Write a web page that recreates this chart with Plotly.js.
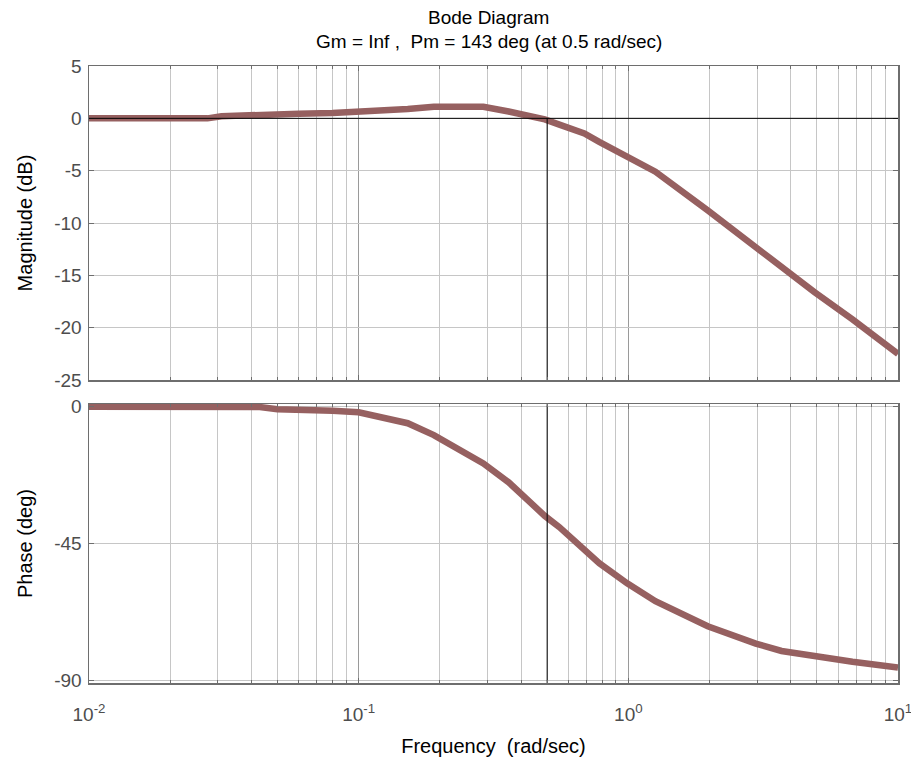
<!DOCTYPE html>
<html>
<head>
<meta charset="utf-8">
<script src="https://cdn.plot.ly/plotly-3.0.1.min.js"></script>
<style>html,body{margin:0;padding:0;background:#fff;}#chart{width:911px;height:761px;}</style>
</head>
<body>
<div id="chart"></div>
<script>
// Frequency grid (rad/sec)
var freq = [0.01, 0.0275, 0.031, 0.043, 0.05, 0.06, 0.08, 0.1, 0.12, 0.152, 0.19, 0.29, 0.36, 0.394, 0.49, 0.555, 0.687, 0.78, 0.99, 1.26, 1.97, 2.43, 2.97, 3.7, 4.9, 6.78, 10];
// Magnitude (dB)
var magnitude = [0, 0, 0.2, 0.25, 0.27, 0.45, 0.5, 0.6, 0.7, 0.9, 1.1, 1.1, 0.65, 0.45, -0.1, -0.6, -1.45, -2.25, -3.6, -5.1, -8.8, -10.6, -12.15, -14.1, -16.6, -19.2, -22.5];
// Phase (deg)
var phase = [-0.2, -0.2, -0.2, -0.3, -1.0, -1.1, -1.5, -2.0, -3.5, -5.6, -9.5, -18.8, -25, -28.3, -36.0, -39.7, -47.3, -51.5, -58.1, -64, -72.2, -75.4, -77.9, -80.3, -82, -83.8, -85.7];

var pmFreq = 0.5;
var titleLine1 = 'Bode Diagram';
var titleLine2 = 'Gm = Inf ,  Pm = 143 deg (at 0.5 rad/sec)';
var magTicks = [5, 0, -5, -10, -15, -20, -25];
var magTickText = ['5', '0', '-5', '-10', '-15', '-20', '-25'];
var phaseTicks = [0, -45, -90];
var phaseTickText = ['0', '-45', '-90'];
var magRange = [-25, 5];
var phaseRange = [-90.8, 0.66];
var decades = [0.01, 0.1, 1, 10];
var decadeText = ['10<sup>-2</sup>', '10<sup>-1</sup>', '10<sup>0</sup>', '10<sup>1</sup>'];

var minorVals = [];
[0.01, 0.1, 1].forEach(function (d) {
  for (var k = 2; k <= 9; k++) minorVals.push(+(d * k).toPrecision(3));
});

var curveColor = 'rgb(150,96,96)';
var font = 'Liberation Sans, Arial, sans-serif';
var frameColor = '#6e6e6e';
var tickFontColor = '#4d4d4d';

var traces = [
  {x: freq, y: magnitude, xaxis: 'x', yaxis: 'y', mode: 'lines',
   line: {color: curveColor, width: 6.5}, hoverinfo: 'skip'},
  {x: [pmFreq, pmFreq], y: [0, magRange[0]], xaxis: 'x', yaxis: 'y', mode: 'lines',
   line: {color: '#000', width: 1}, hoverinfo: 'skip'},
  {x: freq, y: phase, xaxis: 'x2', yaxis: 'y2', mode: 'lines',
   line: {color: curveColor, width: 6.5}, hoverinfo: 'skip'},
  {x: [pmFreq, pmFreq], y: [phaseRange[1], phaseRange[0]], xaxis: 'x2', yaxis: 'y2', mode: 'lines',
   line: {color: '#000', width: 1}, hoverinfo: 'skip'}
];

function xAxis(showLabels, anchor) {
  return {
    type: 'log', range: [-2, 1], anchor: anchor,
    tickmode: 'array', tickvals: decades, ticktext: decadeText,
    showticklabels: showLabels, ticklabeloverflow: 'allow', ticklabelstandoff: 14,
    ticks: 'inside', ticklen: 5, tickcolor: frameColor,
    showgrid: true, gridcolor: '#9a9a9a', gridwidth: 1,
    minor: {tickmode: 'array', tickvals: minorVals, ticks: 'inside', ticklen: 3,
            tickcolor: frameColor, showgrid: true, gridcolor: '#c6c6c6', gridwidth: 1},
    showline: true, linecolor: frameColor, linewidth: 1.5, mirror: 'ticks',
    zeroline: false,
    tickfont: {family: font, size: 19, color: tickFontColor}
  };
}

function yAxis(domain, range, vals, text, anchor, title) {
  return {
    domain: domain, range: range, anchor: anchor,
    tickmode: 'array', tickvals: vals, ticktext: text,
    ticks: 'inside', ticklen: 5, tickcolor: frameColor, ticklabelstandoff: 2,
    showgrid: true, gridcolor: '#c6c6c6',
    showline: true, linecolor: frameColor, linewidth: 1.5, mirror: 'ticks',
    zeroline: false,
    tickfont: {family: font, size: 19, color: tickFontColor},
    title: {text: title, font: {family: font, size: 20, color: '#000'}, standoff: 16}
  };
}

var layout = {
  width: 911, height: 761,
  margin: {l: 89, r: 13, t: 66, b: 78},
  paper_bgcolor: '#fff', plot_bgcolor: '#fff',
  showlegend: false,
  xaxis: xAxis(false, 'y'),
  yaxis: yAxis([0.491, 1], magRange, magTicks, magTickText, 'x', 'Magnitude (dB)'),
  xaxis2: Object.assign(xAxis(true, 'y2'), {
    title: {text: 'Frequency  (rad/sec)', font: {family: font, size: 20, color: '#000'}, standoff: 14}
  }),
  yaxis2: yAxis([0, 0.452], phaseRange, phaseTicks, phaseTickText, 'x2', 'Phase (deg)'),
  annotations: [
    {text: titleLine1, xref: 'paper', yref: 'paper', x: 0.494, y: 1.0778,
     xanchor: 'center', yanchor: 'middle', showarrow: false,
     font: {family: font, size: 19, color: '#000'}},
    {text: titleLine2, xref: 'paper', yref: 'paper', x: 0.494, y: 1.0389,
     xanchor: 'center', yanchor: 'middle', showarrow: false,
     font: {family: font, size: 19, color: '#000'}}
  ],
  shapes: [
    {type: 'line', xref: 'x domain', x0: 0, x1: 1, yref: 'y', y0: 0, y1: 0,
     line: {color: '#000', width: 1}}
  ]
};

Plotly.newPlot('chart', traces, layout, {displayModeBar: false, staticPlot: true});
</script>
</body>
</html>
